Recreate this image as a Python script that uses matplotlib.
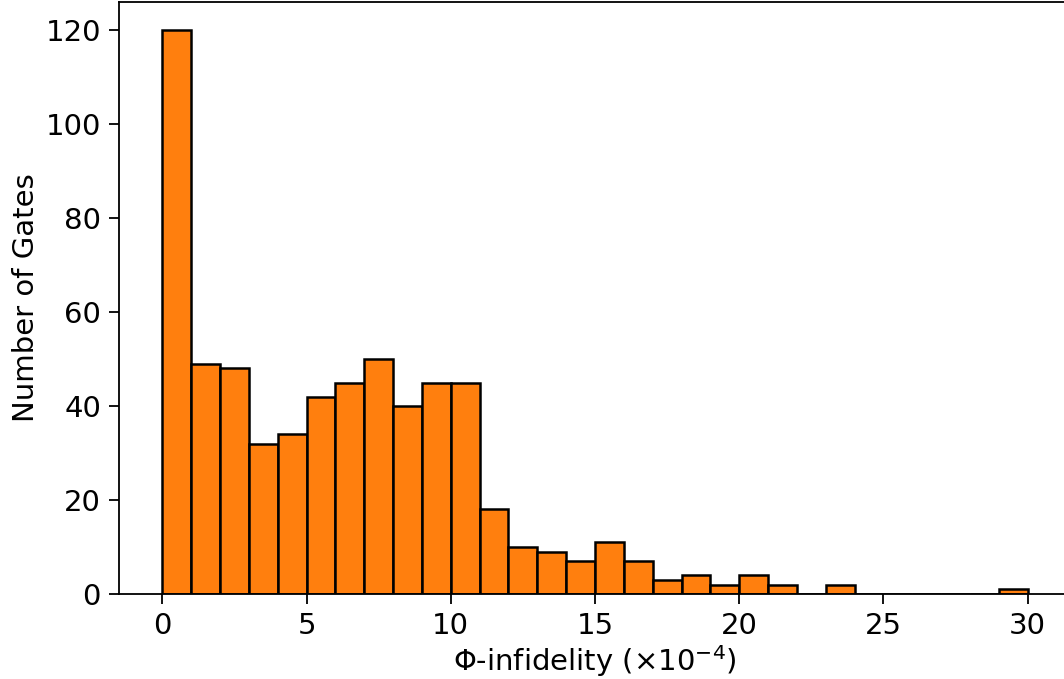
import numpy as np
import matplotlib
matplotlib.use('Agg')
import matplotlib.pyplot as plt

# histogram bins (x 1e-4) and counts
bin_edges = np.arange(0, 31, 1)
counts = [120, 49, 48, 32, 34, 42, 45, 50, 40, 45,
          45, 18, 10, 9, 7, 11, 7, 3, 4, 2,
          4, 2, 0, 2, 0, 0, 0, 0, 0, 1]

fig = plt.figure(figsize=(10.64, 6.79), dpi=100)
# axes run slightly past the right edge, as in the reference crop
ax = fig.add_axes([119/1064, 85/679, 952/1064, 592/679])

ax.hist(bin_edges[:-1], bins=bin_edges, weights=counts,
        color='#ff7f0e', edgecolor='black', linewidth=1.8)

ax.set_xlim(-1.5, 31.5)
ax.set_ylim(0, 126)
ax.set_xticks([0, 5, 10, 15, 20, 25, 30])
ax.set_yticks([0, 20, 40, 60, 80, 100, 120])
ax.tick_params(labelsize=21, length=7, width=1.3, pad=6)
for s in ax.spines.values():
    s.set_linewidth(1.3)

ax.set_xlabel(r'$\Phi$-infidelity ($\times 10^{-4}$)', fontsize=21, labelpad=2)
ax.set_ylabel('Number of Gates', fontsize=21, labelpad=4)

fig.savefig('out.png', dpi=100)
